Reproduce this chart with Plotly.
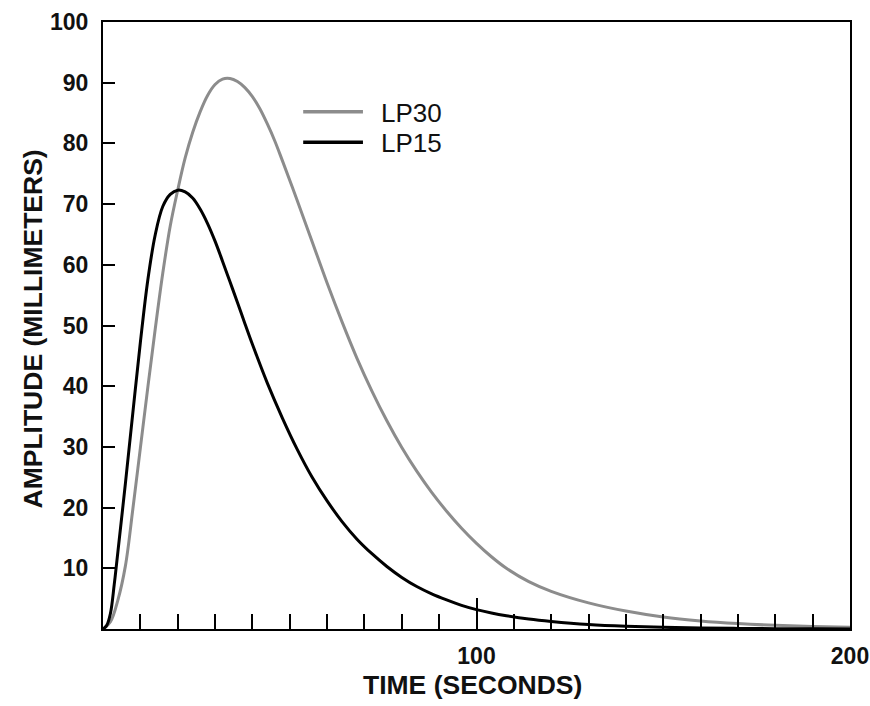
import plotly.graph_objects as go

# LP15 response (black)
time_lp15 = [0, 1, 2, 3, 4, 6, 8, 10, 12, 14, 16, 18, 20, 22, 24, 26, 28, 30, 32, 34, 36, 38, 40,
             44, 48, 52, 56, 60, 64, 68, 72, 76, 80, 84, 88, 92, 96, 100,
             104, 108, 114, 120, 130, 140, 150, 160, 170, 180, 190, 200]
amp_lp15 = [0, 0.6, 2.6, 7.3, 12.8, 24.0, 35.7, 47.2, 57.5, 65.0, 69.6, 71.6, 72.3, 72.0, 71.0,
            69.2, 66.8, 63.9, 60.6, 57.2, 53.8, 50.3, 46.9,
            40.5, 34.8, 29.6, 25.0, 21.1, 17.7, 14.8, 12.4, 10.3, 8.5, 7.0, 5.8, 4.8, 3.9, 3.2,
            2.65, 2.2, 1.65, 1.25, 0.75, 0.45, 0.27, 0.16, 0.1, 0.06, 0.03, 0.02]

# LP30 response (grey)
time_lp30 = [0, 2, 4, 6, 8, 10, 12, 14, 16, 18, 20, 22, 24, 26, 28, 30, 32, 34, 36, 38, 40,
             42, 44, 46, 48, 52, 56, 60, 64, 68, 72, 76, 80, 84, 88, 92, 96, 100,
             104, 108, 114, 120, 130, 140, 150, 160, 170, 180, 190, 200]
amp_lp30 = [0, 1.2, 4.8, 10.4, 19.8, 29.8, 39.8, 49.5, 58.6, 66.4, 72.3, 77.6, 81.8, 85.2, 87.9,
            89.7, 90.6, 90.7, 90.2, 89.2, 87.7,
            85.7, 83.2, 80.4, 77.2, 70.6, 63.8, 57.0, 50.6, 44.6, 39.2, 34.3, 29.9, 26.0, 22.5,
            19.4, 16.6, 14.1,
            11.9, 10.0, 7.8, 6.2, 4.3, 2.95, 1.97, 1.33, 0.9, 0.6, 0.4, 0.27]

series_names = ["LP30", "LP15"]
series_colors = ["#8c8c8c", "#000000"]

y_tick_values = [10, 20, 30, 40, 50, 60, 70, 80, 90, 100]
y_tick_labels = ["10", "20", "30", "40", "50", "60", "70", "80", "90", "100"]
x_tick_values = [100, 200]
x_tick_labels = ["100", "200"]

FONT = "Liberation Sans, Arial, sans-serif"

fig = go.Figure()
fig.add_trace(go.Scatter(x=time_lp30, y=amp_lp30, mode="lines", name=series_names[0],
                         line=dict(color=series_colors[0], width=3, shape="spline", smoothing=1.0),
                         showlegend=False))
fig.add_trace(go.Scatter(x=time_lp15, y=amp_lp15, mode="lines", name=series_names[1],
                         line=dict(color=series_colors[1], width=3, shape="spline", smoothing=1.0),
                         showlegend=False))

# Key: long line samples followed by labels
key_rows = [0.852, 0.802]
for name, color, yk in zip(series_names, series_colors, key_rows):
    fig.add_shape(type="line", xref="paper", yref="paper", x0=0.268, x1=0.348, y0=yk, y1=yk,
                  line=dict(color=color, width=3.5))
    fig.add_annotation(text=name, xref="paper", yref="paper", x=0.370, y=yk, xanchor="left",
                       yanchor="middle", showarrow=False, yshift=-1,
                       font=dict(family=FONT, size=26, color="#111"))

fig.add_annotation(text="<b>TIME (SECONDS)</b>", xref="paper", yref="paper", x=0.495, y=0,
                   xanchor="center", yanchor="middle", yshift=-56, showarrow=False,
                   font=dict(family=FONT, size=26.5, color="#111"))
fig.add_annotation(text="<b>AMPLITUDE (MILLIMETERS)</b>", xref="paper", yref="paper", x=0, y=0.5,
                   xanchor="center", yanchor="middle", xshift=-71, yshift=-4, textangle=-90,
                   showarrow=False, font=dict(family=FONT, size=26.5, color="#111"))

fig.update_layout(
    width=870, height=706,
    margin=dict(l=103, r=20, t=22, b=77),
    paper_bgcolor="white", plot_bgcolor="white",
    font=dict(family=FONT, color="#111"),
)
fig.update_xaxes(
    range=[0, 200], showgrid=False, zeroline=False, automargin=False,
    showline=True, linecolor="#000", linewidth=2, mirror=True,
    tickmode="array", tickvals=x_tick_values, ticktext=x_tick_labels,
    ticks="inside", ticklen=31, tickwidth=2, tickcolor="#000",
    minor=dict(dtick=10, tick0=0, ticks="inside", ticklen=15, tickwidth=2, tickcolor="#000", showgrid=False),
    tickfont=dict(family=FONT, size=23, color="#111", weight="bold"),
    ticklabelstandoff=5,
)
fig.update_yaxes(
    range=[0, 100], showgrid=False, zeroline=False, automargin=False,
    showline=True, linecolor="#000", linewidth=2, mirror=True,
    tickmode="array", tickvals=y_tick_values, ticktext=y_tick_labels,
    ticks="inside", ticklen=12, tickwidth=2, tickcolor="#000",
    tickfont=dict(family=FONT, size=23, color="#111", weight="bold"),
    ticklabelstandoff=8,
)

fig.write_html("out.html")
